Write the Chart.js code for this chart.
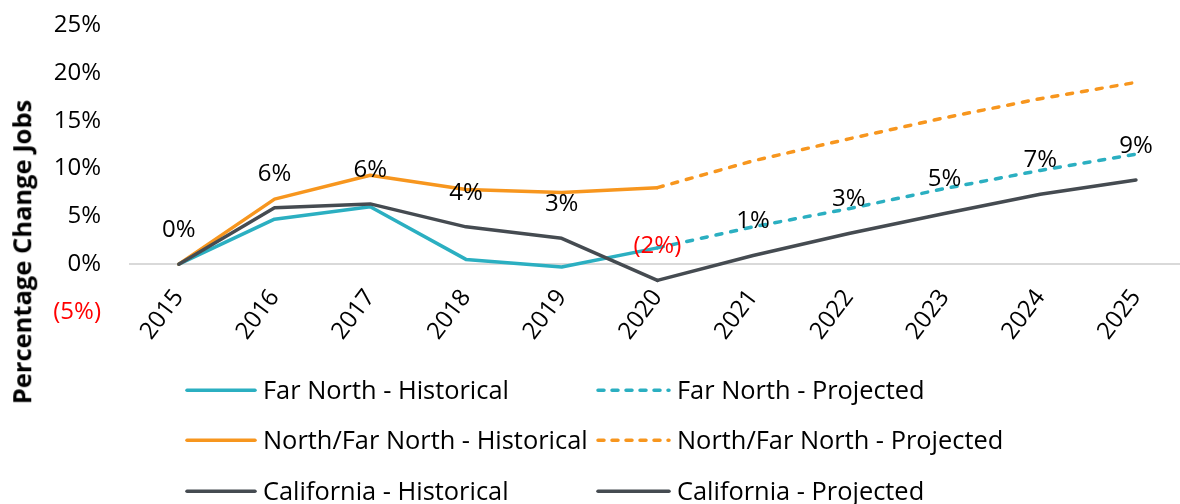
<!DOCTYPE html>
<html>
<head>
<meta charset="utf-8">
<script src="https://cdn.jsdelivr.net/npm/chart.js@4.4.0/dist/chart.umd.min.js"></script>
<style>
html,body{margin:0;padding:0;width:1180px;height:504px;overflow:hidden;background:#fff;}
#wrap{position:relative;width:1180px;height:504px;font-family:"Open Sans",sans-serif;color:#000;}
#c{position:absolute;left:0;top:0;}
#ytitle{position:absolute;left:22px;top:252px;transform:translate(-50%,-50%) rotate(-90deg);font-weight:bold;font-size:25.5px;white-space:nowrap;line-height:1;}
.leg{position:absolute;font-size:25.4px;white-space:nowrap;line-height:1;transform:translateY(-50%);}
.leg svg{position:absolute;top:50%;transform:translateY(-50%);}
</style>
</head>
<body>
<div id="wrap">
<canvas id="c" width="1180" height="504"></canvas>
<div id="ytitle">Percentage Change Jobs</div>
<div id="legend"></div>
</div>
<script>
// ---- data ----
const years = ['2015','2016','2017','2018','2019','2020','2021','2022','2023','2024','2025'];
const farNorthHistorical = [0, 4.7, 6.0, 0.5, -0.3, 1.7, null, null, null, null, null];
const farNorthProjected  = [null, null, null, null, null, 1.7, 3.9, 5.8, 7.9, 9.8, 11.5];
const northHistorical    = [0, 6.8, 9.3, 7.8, 7.5, 8.0, null, null, null, null, null];
const northProjected     = [null, null, null, null, null, 8.0, 10.8, 13.1, 15.3, 17.3, 19.0];
const caHistorical       = [0, 5.9, 6.3, 3.9, 2.7, -1.7, null, null, null, null, null];
const caProjected        = [null, null, null, null, null, -1.7, 0.9, 3.2, 5.3, 7.3, 8.8];
const seriesNames = ['Far North - Historical','Far North - Projected','North/Far North - Historical','North/Far North - Projected','California - Historical','California - Projected'];
const yMin = -5, yMax = 25, yStep = 5;

const TEAL = '#2BAFC1', ORANGE = '#F7961E', DARK = '#454B51';
const FONT = '"Open Sans", sans-serif';

function pct(v){ const r = Math.round(v); return r < 0 ? '(' + Math.abs(r) + '%)' : r + '%'; }

const labelPlugin = {
  id: 'caLabels',
  afterDatasetsDraw(chart){
    const ctx = chart.ctx;
    ctx.save();
    ctx.font = '24px ' + FONT;
    ctx.textAlign = 'center';
    ctx.textBaseline = 'middle';
    chart.data.datasets.forEach((ds, di) => {
      if (!ds.dataLabels) return;
      const meta = chart.getDatasetMeta(di);
      ds.data.forEach((v, i) => {
        if (v === null) return;
        if (ds.skipFirst && i === ds.data.findIndex(x => x !== null)) return;
        const pt = meta.data[i];
        ctx.fillStyle = Math.round(v) < 0 ? '#FF0000' : '#000000';
        ctx.fillText(pct(v), pt.x, pt.y - 34);
      });
    });
    ctx.restore();
  }
};

const base = {pointRadius:0, pointHoverRadius:0, borderWidth:3.5, tension:0, fill:false, spanGaps:false, borderCapStyle:'round', borderJoinStyle:'round'};
const datasets = [
  Object.assign({}, base, {label:seriesNames[5], data:caProjected, borderColor:DARK, dataLabels:true, skipFirst:true}),
  Object.assign({}, base, {label:seriesNames[4], data:caHistorical, borderColor:DARK, dataLabels:true}),
  Object.assign({}, base, {label:seriesNames[3], data:northProjected, borderColor:ORANGE, borderDash:[6,9]}),
  Object.assign({}, base, {label:seriesNames[2], data:northHistorical, borderColor:ORANGE}),
  Object.assign({}, base, {label:seriesNames[1], data:farNorthProjected, borderColor:TEAL, borderDash:[6,9]}),
  Object.assign({}, base, {label:seriesNames[0], data:farNorthHistorical, borderColor:TEAL})
];

new Chart(document.getElementById('c'), {
  type:'line',
  data:{labels:years, datasets:datasets},
  options:{
    responsive:false, animation:false, devicePixelRatio:1,
    layout:{padding:{top:25, bottom:192, left:0, right:0}},
    plugins:{legend:{display:false}, tooltip:{enabled:false}},
    scales:{
      x:{
        type:'linear', position:{y:0}, min:2014.49, max:2025.46,
        grid:{display:false, drawTicks:false},
        border:{display:true, color:'#D9D9D9', width:2},
        afterFit(s){ s.paddingLeft = 0; s.paddingRight = 0; },
        ticks:{stepSize:1, includeBounds:false, font:{family:FONT, size:24}, color:'#000', minRotation:53, maxRotation:53, padding:20, autoSkip:false,
          callback:(v)=> Number.isInteger(v) ? String(v) : ''}
      },
      y:{
        min:yMin, max:yMax,
        grid:{display:false, drawTicks:false},
        border:{display:false},
        afterFit(s){ s.width = 130; s.paddingTop = 0; s.paddingBottom = 0; },
        ticks:{stepSize:yStep, padding:29, font:{family:FONT, size:24},
          color:(c)=> c.tick && c.tick.value < 0 ? '#FF0000' : '#000',
          callback:(v)=> v < 0 ? '(' + Math.abs(v) + '%)' : v + '%'}
      }
    }
  },
  plugins:[labelPlugin]
});

// ---- HTML legend (2 columns x 3 rows) ----
const legendItems = [
  {name:seriesNames[0], color:TEAL, dash:false},
  {name:seriesNames[1], color:TEAL, dash:true},
  {name:seriesNames[2], color:ORANGE, dash:false},
  {name:seriesNames[3], color:ORANGE, dash:true},
  {name:seriesNames[4], color:DARK, dash:false},
  {name:seriesNames[5], color:DARK, dash:false}
];
const colLineX = [187, 598], colTextX = [263, 677], rowY = [390, 440, 491];
const lg = document.getElementById('legend');
legendItems.forEach((it, i) => {
  const col = i % 2, row = Math.floor(i / 2);
  const sw = colTextX[col] - colLineX[col] - 8;
  const d = document.createElement('div');
  d.className = 'leg';
  d.style.left = colTextX[col] + 'px';
  d.style.top = rowY[row] + 'px';
  d.innerHTML = '<svg width="' + (sw + 6) + '" height="8" style="left:' + (colLineX[col] - colTextX[col] - 3) + 'px">' +
    '<line x1="3" y1="4" x2="' + (sw + 3) + '" y2="4" stroke="' + it.color + '" stroke-width="3.5" stroke-linecap="round"' +
    (it.dash ? ' stroke-dasharray="6 8"' : '') + '/></svg>' + it.name;
  lg.appendChild(d);
});
</script>
</body>
</html>
